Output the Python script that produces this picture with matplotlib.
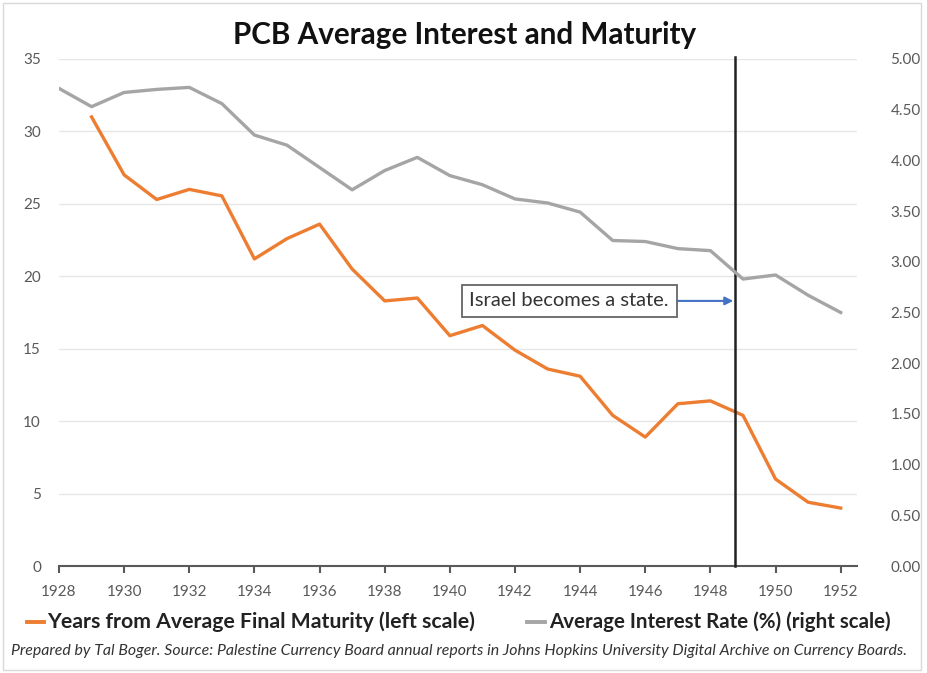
import matplotlib
matplotlib.use("Agg")
import matplotlib.pyplot as plt
from matplotlib.patches import Rectangle

plt.rcParams['font.family'] = ['Lato', 'DejaVu Sans']

years_maturity = list(range(1929, 1953))
maturity = [31.0, 27.0, 25.3, 26.0, 25.55, 21.2, 22.6, 23.6, 20.5, 18.3, 18.5,
            15.9, 16.6, 14.9, 13.6, 13.1, 10.4, 8.9, 11.2, 11.4, 10.4, 6.0, 4.4, 4.0]
years_rate = list(range(1928, 1953))
rate = [4.71, 4.53, 4.67, 4.70, 4.72, 4.56, 4.25, 4.15, 3.93, 3.71, 3.90, 4.03,
        3.85, 3.76, 3.62, 3.58, 3.49, 3.21, 3.20, 3.13, 3.11, 2.83, 2.87, 2.67, 2.50]
xticks = list(range(1928, 1953, 2))
left_ticks = [0, 5, 10, 15, 20, 25, 30, 35]
right_ticks = [0, 0.5, 1.0, 1.5, 2.0, 2.5, 3.0, 3.5, 4.0, 4.5, 5.0]
statehood_year = 1948.75

ORANGE = '#ED7D31'
GRAY = '#A5A5A5'
TXT = '#595959'

fig = plt.figure(figsize=(9.27, 6.73), dpi=100)
ax = fig.add_axes([59/927, 1-566/673, (857-59)/927, (566-59)/673])
ax2 = ax.twinx()

ax.plot(years_maturity, maturity, color=ORANGE, lw=2.4, solid_joinstyle='round', zorder=3)
ax2.plot(years_rate, rate, color=GRAY, lw=2.4, solid_joinstyle='round', zorder=3)

ax.set_xlim(1928, 1952.5)
ax.set_ylim(0, 35)
ax2.set_ylim(0, 5)
ax.set_yticks(left_ticks)
ax2.set_yticks(right_ticks)
ax2.set_yticklabels([f"{v:.2f}" for v in right_ticks])
ax.set_xticks(xticks)
ax.set_xticklabels([str(x) for x in xticks])

for a in (ax, ax2):
    for s in ['top', 'right', 'left', 'bottom']:
        a.spines[s].set_visible(False)
ax.spines['bottom'].set_visible(True)
ax.spines['bottom'].set_color('#595959')
ax.spines['bottom'].set_linewidth(1.5)

ax.grid(axis='y', color='#E6E6E6', lw=1.0)
ax.set_axisbelow(True)
ax.tick_params(axis='y', length=0, pad=13, labelsize=11, labelcolor=TXT)
ax2.tick_params(axis='y', length=0, pad=24, labelsize=11, labelcolor=TXT)
ax.tick_params(axis='x', length=5, width=1.5, color='#595959', direction='out',
               pad=9, labelsize=11, labelcolor=TXT)

# vertical statehood line
ax.axvline(statehood_year, ymin=0, ymax=1.004, color='#222222', lw=1.8, zorder=4, clip_on=False)

# annotation
ax.annotate('Israel becomes a state.', xy=(statehood_year - 0.05, 18.3),
            xytext=(1940.6, 18.3), textcoords='data',
            fontsize=14.5, color='#333333', va='center', ha='left', zorder=5,
            bbox=dict(boxstyle='square,pad=0.38', fc='white', ec='#666666', lw=1.3),
            arrowprops=dict(arrowstyle='-|>', color='#4472C4', lw=1.5,
                            mutation_scale=12, shrinkA=0, shrinkB=0))

fig.text(465/927, 1-35/673, 'PCB Average Interest and Maturity', ha='center', va='center',
         fontsize=21.3, fontweight='bold', color='#111111')

# legend
ly = 1 - 622/673
fig.add_artist(plt.Line2D([27/927, 44/927], [ly, ly], color=ORANGE, lw=2.8))
fig.text(47/927, ly, 'Years from Average Final Maturity (left scale)', ha='left', va='center',
         fontsize=15.3, fontweight='bold', color='#222222')
fig.add_artist(plt.Line2D([527/927, 545/927], [ly, ly], color=GRAY, lw=2.8))
fig.text(549/927, ly, 'Average Interest Rate (%) (right scale)', ha='left', va='center',
         fontsize=14.8, fontweight='bold', color='#222222')

fig.text(459/927, 1-651/673,
         'Prepared by Tal Boger. Source: Palestine Currency Board annual reports in Johns Hopkins University Digital Archive on Currency Boards.',
         ha='center', va='center', fontsize=11.4, style='italic', color='#333333')

fig.add_artist(Rectangle((3/927, 3/673), 918/927, 667/673, transform=fig.transFigure,
                         fill=False, ec='#D9D9D9', lw=1.0))

fig.savefig('out.png', dpi=100, facecolor='white')
